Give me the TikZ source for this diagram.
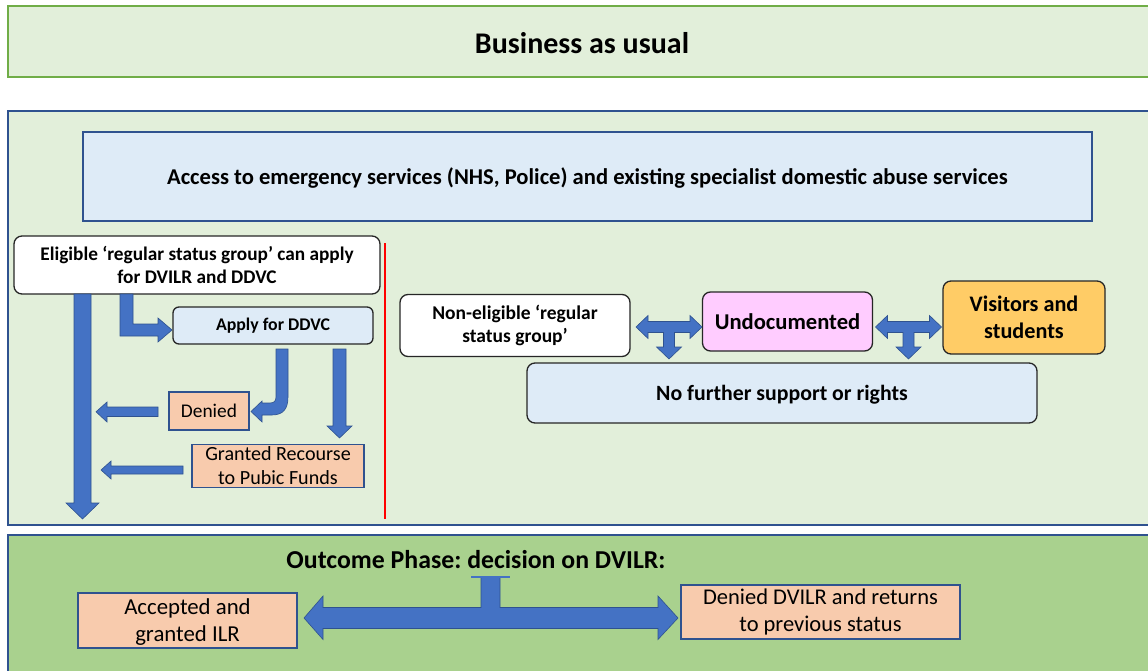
\documentclass[tikz,border=0pt]{standalone}
\usepackage{fontspec}
\setmainfont{Carlito}
\frenchspacing
\definecolor{lgreen}{HTML}{E2EFDA}
\definecolor{dgreen}{HTML}{70AD47}
\definecolor{mgreen}{HTML}{A9D18E}
\definecolor{bord}{HTML}{2F528F}
\definecolor{lblue}{HTML}{DEEBF7}
\definecolor{arr}{HTML}{4472C4}
\definecolor{peach}{HTML}{F8CBAD}
\definecolor{pinkc}{HTML}{FFCCFF}
\definecolor{orangec}{HTML}{FFCC66}
\newcommand\fs[2]{\fontsize{#1}{#2}\selectfont}
\tikzset{
  panel/.style={line width=2pt},
  rbox/.style={draw=black!85, line width=1.3pt, rounded corners=8pt, inner sep=0pt, align=center},
  pbox/.style={draw=bord, line width=1.5pt, fill=peach, inner sep=0pt, align=center},
  blockarrow/.style={fill=arr, draw=bord, line width=0.6pt, line join=miter},
}
\begin{document}
\begin{tikzpicture}[x=1pt,y=-1pt]
\useasboundingbox (0,0) rectangle (1148,671);
% panels
\draw[panel, draw=dgreen, fill=lgreen] (8,6) rectangle (1152,77);
\node[font={\fs{30}{34}\bfseries}] (bau) at (582,43) {Business as usual};
\draw[panel, draw=bord, fill=lgreen] (8,111) rectangle (1152,525);
\draw[panel, draw=bord, fill=mgreen] (8,535) rectangle (1152,680);

\node[draw=bord, line width=1.5pt, fill=lblue, minimum width=1009pt, minimum height=89pt, inner sep=0pt, text depth=0pt, font={\fs{22.6}{26}\bfseries}] (access) at (587.5,176.5)
  {Access to emergency services (NHS, Police) and existing specialist domestic abuse services};

% left side
\node[rbox, fill=white, minimum width=366pt, minimum height=58pt, font={\fs{19.3}{23}\bfseries}] (elig) at (197,265)
  {Eligible ‘regular status group’ can apply\\ for DVILR and DDVC};
\node[rbox, fill=lblue, minimum width=200pt, minimum height=37pt, rounded corners=6pt, font={\fs{17.8}{20}\bfseries}] (apply) at (273,325.5)
  {Apply for DDVC};
\node[pbox, minimum width=80pt, minimum height=38pt, font={\fs{19.4}{23}}] (denied) at (209,411)
  {Denied};
\node[pbox, minimum width=172pt, minimum height=43pt, font={\fs{20.1}{24}}] (granted) at (278,466)
  {Granted Recourse\\to Pubic Funds};
\draw[red, line width=2.4pt] (385,243) coordinate (r1) -- (385,519) coordinate (r2);

% left arrows
\filldraw[blockarrow] (74,294) -- (91,294) -- (91,503) -- (99,503) -- (82.5,519) -- (66,503) -- (74,503) -- cycle;
\filldraw[blockarrow] (120,294) -- (133,294) -- (133,324) -- (158,324) -- (158,318) -- (172,330) -- (158,342) -- (158,336) -- (120,336) -- cycle;
\filldraw[blockarrow] (276,349) -- (288,349) -- (288,397) .. controls (288,409) and (283,415) .. (272,415) -- (262,415) -- (262,422) -- (251,411.5) -- (262,401) -- (262,403) -- (270,403) .. controls (274,403) and (276,401) .. (276,397) -- cycle;
\filldraw[blockarrow] (333,349) -- (346,349) -- (346,426) -- (352,426) -- (339.5,438) -- (327,426) -- (333,426) -- cycle;
\filldraw[blockarrow] (158,407) -- (158,416.5) -- (107,416.5) -- (107,422) -- (96,411.8) -- (107,402) -- (107,407) -- cycle;
\filldraw[blockarrow] (183,466) -- (183,474) -- (111,474) -- (111,479) -- (101,470) -- (111,461) -- (111,466) -- cycle;

% right side
\node[rbox, fill=white, minimum width=230pt, minimum height=62pt, font={\fs{19.5}{23}\bfseries}] (nonelig) at (515,325.5)
  {Non-eligible ‘regular\\status group’};
\node[rbox, fill=pinkc, minimum width=170pt, minimum height=59pt, font={\fs{22.6}{26}\bfseries}] (undoc) at (787.5,321.5)
  {Undocumented};
\node[rbox, fill=orangec, minimum width=162pt, minimum height=73pt, font={\fs{22.2}{27}\bfseries}] (visit) at (1024,317.5)
  {Visitors and\\students};
\node[rbox, fill=lblue, minimum width=510pt, minimum height=60pt, text depth=0pt, font={\fs{21.8}{25}\bfseries}] (nofurther) at (782,393)
  {No further support or rights};

\newcommand\tarrow[1]{%
\filldraw[blockarrow, shift={(#1)}] (-33,0) -- (-21,-11.5) -- (-21,-5.5) -- (21,-5.5) -- (21,-11.5) -- (33,0) -- (21,11.5) -- (21,5.5) -- (5.5,5.5) -- (5.5,20) -- (12.5,20) -- (0,32) -- (-12.5,20) -- (-5.5,20) -- (-5.5,5.5) -- (-21,5.5) -- (-21,11.5) -- cycle;}
\tarrow{669,327}
\tarrow{908.5,327}

% bottom
\node[font={\fs{25.8}{30}\bfseries}] (outcome) at (476,560) {Outcome Phase: decision on DVILR:};
\node[pbox, minimum width=219pt, minimum height=55pt, text depth=0pt, font={\fs{22.8}{27}}] (accepted) at (187.5,620.5)
  {Accepted and\\granted ILR};
\node[pbox, minimum width=279pt, minimum height=54pt, font={\fs{22.5}{27}}] (deniedilr) at (820.5,612)
  {Denied DVILR and returns\\to previous status};
\filldraw[blockarrow] (304,618) -- (323,596) -- (323,607.5) -- (481,607.5) -- (481,577) -- (500,577) -- (500,607.5) -- (658,607.5) -- (658,596) -- (678,618) -- (658,639.5) -- (658,628.5) -- (323,628.5) -- (323,639.5) -- cycle;
\draw[arr, line width=2pt] (471,577) -- (510,577);
\end{tikzpicture}
\end{document}
